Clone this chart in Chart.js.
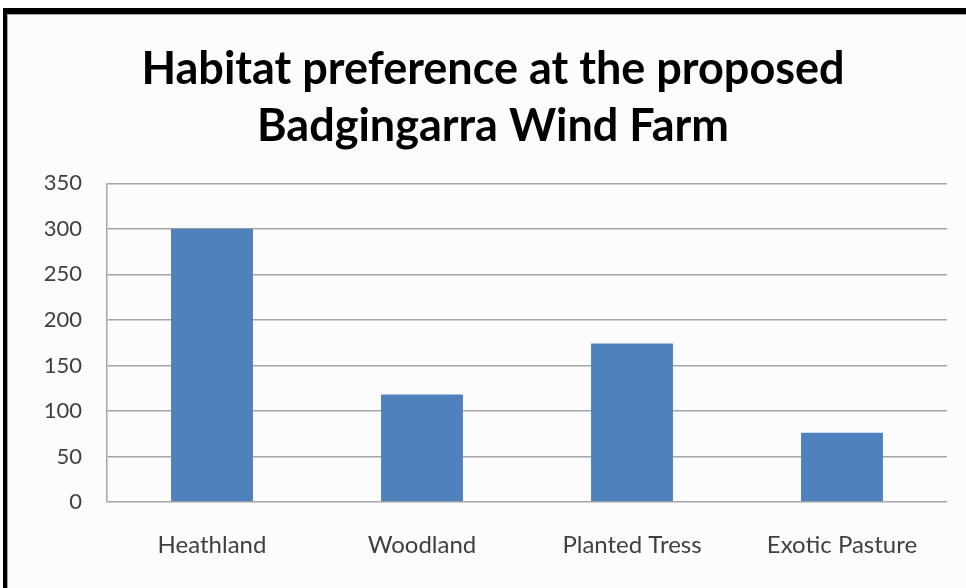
<!DOCTYPE html>
<html><head><meta charset="utf-8">
<script src="https://cdn.jsdelivr.net/npm/chart.js@4/dist/chart.umd.min.js"></script>
<style>
html,body{margin:0;padding:0;background:#fff;width:966px;height:588px;overflow:hidden}
#frame{position:absolute;left:3px;top:8px;width:959px;height:574px;border-top:6px solid #000;border-left:4px solid #000;background:#fcfcfc}
#inner{position:absolute;left:0;top:0;right:0;bottom:0;border-top:1px solid #a8a8a8;border-left:1px solid #a8a8a8}
canvas{position:absolute;left:0;top:0}
</style></head><body>
<div id="frame"><div id="inner"></div><canvas id="c" width="959" height="574"></canvas></div>
<script>
const titleLines = ["Habitat preference at the proposed", "Badgingarra Wind Farm"];
const categories = ["Heathland", "Woodland", "Planted Tress", "Exotic Pasture"];
const values = [300, 118, 174, 76];
const yTicks = [0, 50, 100, 150, 200, 250, 300, 350];

new Chart(document.getElementById('c'), {
  type: 'bar',
  data: { labels: categories, datasets: [{ data: values, backgroundColor: '#4f81bd', borderWidth: 0, categoryPercentage: 1, barPercentage: 0.39 }] },
  options: {
    responsive: false, animation: false,
    layout: { padding: { left: 13, right: 0, top: 0, bottom: 0 } },
    plugins: {
      legend: { display: false }, tooltip: { enabled: false },
      title: { display: true, text: titleLines, color: '#000', font: { family: 'Lato', size: 45, weight: 'bold', lineHeight: 1.27 }, padding: { top: 27, bottom: 28 } }
    },
    scales: {
      x: {
        grid: { display: false, drawTicks: false },
        border: { display: false },
        ticks: { color: '#404040', font: { family: 'Lato', size: 24 }, padding: 29, maxRotation: 0 },
        afterFit: s => { s.height = 86; }
      },
      y: {
        min: 0, max: 350,
        afterBuildTicks: s => { s.ticks = yTicks.map(v => ({ value: v })); },
        grid: { color: '#a6a6a6', lineWidth: 1.5, drawTicks: false },
        border: { display: true, color: '#a6a6a6', width: 1.5 },
        ticks: { color: '#404040', font: { family: 'Lato', size: 22 }, padding: 25 },
        afterFit: s => { s.width = 87; }
      },
      y2: {
        position: 'right', display: true,
        grid: { display: false, drawTicks: false }, border: { display: false },
        ticks: { display: false },
        afterFit: s => { s.width = 19; }
      }
    }
  }
});
</script></body></html>
